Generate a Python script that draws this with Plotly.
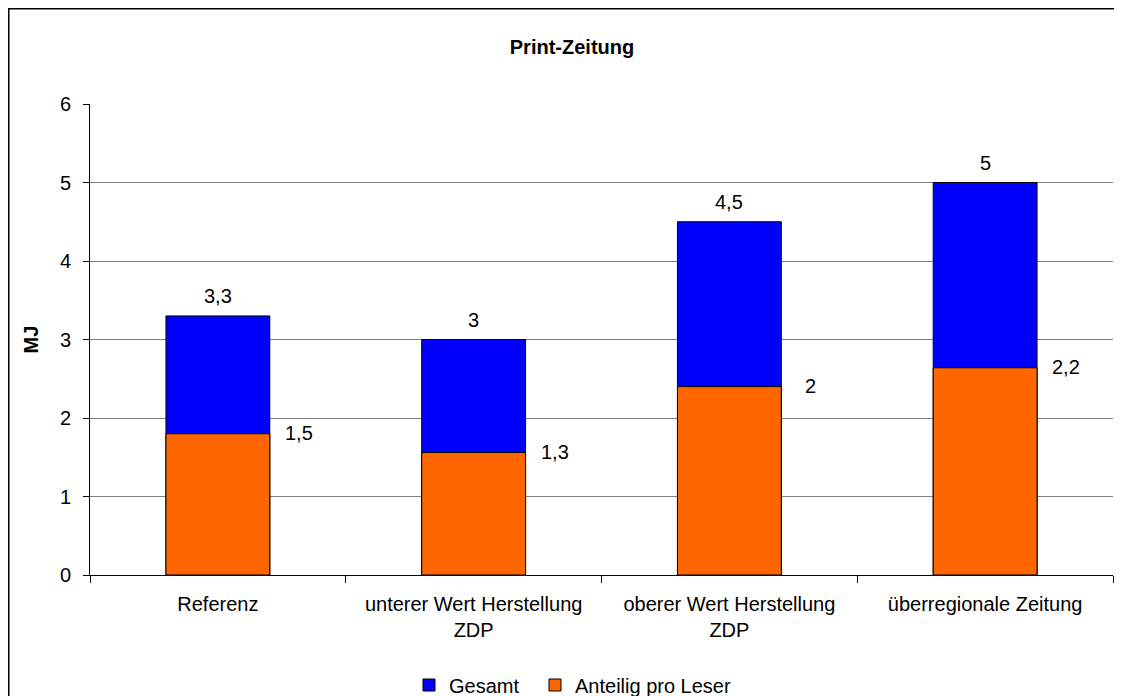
import plotly.graph_objects as go

categories = ["Referenz", "unterer Wert Herstellung<br>ZDP", "oberer Wert Herstellung<br>ZDP", "überregionale Zeitung"]
gesamt = [3.3, 3, 4.5, 5]
anteilig = [1.5, 1.3, 2, 2.2]
y_ticks = [0, 1, 2, 3, 4, 5, 6]

def fmt(v):
    return ("%g" % v).replace(".", ",")

FONT = "Liberation Sans, Arial, sans-serif"

# page body has an 8px margin: plot area target on screen is x 90..1113, y 104..575
L, T, R, B = 82, 96, 17, 129
PW = 1122 - L - R
PH = 696 - T - B

fig = go.Figure()
fig.add_trace(go.Bar(
    x=categories, y=gesamt, name="Gesamt",
    marker=dict(color="#0000FF", line=dict(color="black", width=1)),
    width=0.406, yaxis="y", offsetgroup="a", legend="legend",
))
fig.add_trace(go.Bar(
    x=categories, y=anteilig, name="Anteilig pro Leser",
    marker=dict(color="#FF6600", line=dict(color="black", width=1)),
    width=0.406, yaxis="y2", offsetgroup="a", legend="legend2",
))

annotations = []
for c, v in zip(categories, gesamt):
    annotations.append(dict(x=c, y=v, xref="x", yref="y", text=fmt(v), showarrow=False,
                            xanchor="center", yanchor="middle", yshift=20,
                            font=dict(family=FONT, size=20, color="black")))
for c, v in zip(categories, anteilig):
    annotations.append(dict(x=c, y=v, xref="x", yref="y2", text=fmt(v), showarrow=False,
                            xanchor="center", yanchor="middle", xshift=81, yshift=1,
                            font=dict(family=FONT, size=20, color="black")))

legend_common = dict(orientation="h", xref="container", yref="container",
                     xanchor="left", y=1 - (685 - 8) / 696, yanchor="middle",
                     font=dict(family=FONT, size=20), bgcolor="rgba(0,0,0,0)")

fig.update_layout(
    width=1122, height=696,
    margin=dict(l=L, r=R, t=T, b=B, autoexpand=False),
    paper_bgcolor="white", plot_bgcolor="white",
    barmode="overlay",
    font=dict(family=FONT, size=20, color="black"),
    title=dict(text="<b>Print-Zeitung</b>", x=(572 - 8) / 1122, xref="container", xanchor="center",
               y=1 - 39 / 696, yref="container", yanchor="middle",
               font=dict(family=FONT, size=20, color="black")),
    xaxis=dict(
        showline=True, linecolor="black", linewidth=1,
        ticks="outside", tickson="boundaries", ticklen=7, tickcolor="black",
        showgrid=False, tickfont=dict(family=FONT, size=20),
        ticklabelstandoff=11, automargin=False,
    ),
    yaxis=dict(
        range=[0, 6], tickvals=y_ticks, showline=True, linecolor="black", linewidth=1,
        ticks="outside", ticklen=6, tickcolor="black",
        showgrid=True, gridcolor="#808080", gridwidth=1,
        zeroline=False, automargin=False, ticklabelstandoff=8,
        title=dict(text="<b>MJ</b>", font=dict(family=FONT, size=20), standoff=15),
        tickfont=dict(family=FONT, size=20),
    ),
    yaxis2=dict(range=[0, 5], overlaying="y", side="right", visible=False),
    legend=dict(x=(409 - 8) / 1122, **legend_common),
    legend2=dict(x=(535 - 8) / 1122, **legend_common),
    annotations=annotations,
    shapes=[dict(type="rect", xref="paper", yref="paper",
                 x0=(0.75 - L) / PW, x1=(1140 - L) / PW,
                 y0=-(B + 20) / PH, y1=(PH + T - 0.75) / PH,
                 line=dict(color="black", width=1.5), fillcolor="rgba(0,0,0,0)", layer="below")],
    showlegend=True,
)

fig.write_html("out.html")
